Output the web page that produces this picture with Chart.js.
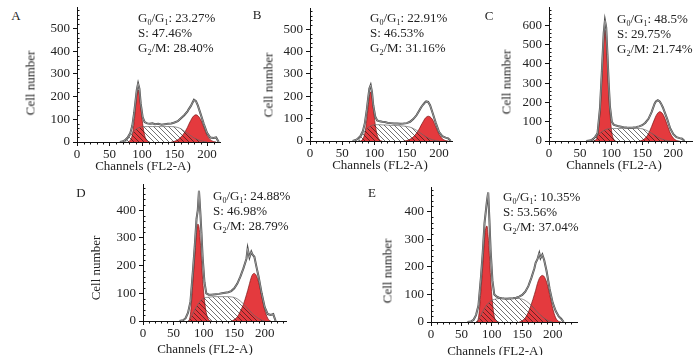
<!DOCTYPE html>
<html lang="en">
<head>
<meta charset="UTF-8">
<title>Cell cycle histograms</title>
<script src="https://cdn.jsdelivr.net/npm/chart.js@4.4.4/dist/chart.umd.js"></script>
<style>
  body { margin: 0; background: #fff; }
  #fig { position: relative; width: 700px; height: 355px; overflow: hidden;
         font-family: "Liberation Serif", "Times New Roman", serif; color: #222; }
  #fig canvas { position: absolute; }
  .txt { position: absolute; font-size: 13px; line-height: 15px; white-space: nowrap; }
  .lab { position: absolute; font-size: 13px; line-height: 15px; white-space: nowrap; transform: translate(-50%, -50%); }
  .rot { transform: translate(-50%, -50%) rotate(-90deg); }
  sub { font-size: 8px; line-height: 0; vertical-align: -3px; }
</style>
</head>
<body>
<div id="fig"></div>
<script>
// FL2-A channels shared by all five histograms
const channels = [0, 60, 66, 70, 74, 78, 82, 85, 88, 90, 92, 94, 96, 98, 101, 104, 108, 112, 116, 120,
  125, 130, 135, 140, 145, 150, 155, 160, 165, 170, 172, 175, 178, 180, 183, 186, 190, 195, 200, 205, 210, 214, 218];

// panel A
const rawA = [0, 0, 0, 2, 8, 20, 40, 70, 130, 180, 230, 258, 235, 170, 110, 88, 82, 80, 82, 78,
  80, 76, 78, 80, 82, 86, 92, 105, 118, 135, 145, 158, 175, 186, 180, 160, 125, 80, 40, 20, 18, 20, 0];
const g1A = [0, 0, 0, 0, 0, 0, 8, 30, 90, 150, 205, 230, 210, 160, 80, 30, 5, 0, 0, 0,
  0, 0, 0, 0, 0, 0, 0, 0, 0, 0, 0, 0, 0, 0, 0, 0, 0, 0, 0, 0, 0, 0, 0];
const sA = [0, 0, 0, 0, 0, 12, 28, 40, 50, 55, 58, 62, 64, 66, 68, 68, 68, 68, 68, 68,
  68, 68, 68, 68, 68, 67, 64, 58, 48, 38, 34, 28, 22, 18, 14, 10, 6, 2, 0, 0, 0, 0, 0];
const g2A = [0, 0, 0, 0, 0, 0, 0, 0, 0, 0, 0, 0, 0, 0, 0, 0, 0, 0, 0, 0,
  0, 0, 0, 0, 0, 3, 10, 22, 40, 65, 78, 95, 110, 116, 120, 116, 100, 65, 30, 10, 2, 0, 0];

// panel B
const rawB = [0, 0, 0, 3, 10, 22, 45, 80, 140, 190, 235, 250, 220, 160, 110, 92, 88, 86, 85, 82,
  80, 78, 78, 77, 78, 80, 86, 98, 115, 140, 150, 162, 172, 177, 175, 160, 125, 80, 40, 22, 15, 12, 0];
const g1B = [0, 0, 0, 0, 0, 0, 10, 35, 95, 150, 200, 220, 200, 150, 75, 28, 5, 0, 0, 0,
  0, 0, 0, 0, 0, 0, 0, 0, 0, 0, 0, 0, 0, 0, 0, 0, 0, 0, 0, 0, 0, 0, 0];
const sB = [0, 0, 0, 0, 0, 15, 32, 45, 55, 60, 64, 67, 70, 72, 73, 73, 73, 72, 72, 71,
  70, 70, 69, 68, 67, 65, 62, 56, 48, 38, 34, 28, 22, 18, 14, 10, 5, 2, 0, 0, 0, 0, 0];
const g2B = [0, 0, 0, 0, 0, 0, 0, 0, 0, 0, 0, 0, 0, 0, 0, 0, 0, 0, 0, 0,
  0, 0, 0, 0, 0, 2, 8, 18, 35, 58, 70, 85, 100, 106, 111, 108, 95, 62, 30, 10, 2, 0, 0];

// panel C
const rawC = [0, 0, 2, 8, 20, 40, 170, 360, 560, 625, 590, 450, 300, 180, 100, 85, 80, 76, 74, 72,
  70, 69, 70, 72, 76, 82, 95, 115, 150, 195, 205, 212, 205, 195, 175, 150, 115, 65, 35, 20, 15, 12, 0];
const g1C = [0, 0, 0, 0, 3, 28, 150, 340, 530, 575, 530, 410, 270, 150, 45, 10, 0, 0, 0, 0,
  0, 0, 0, 0, 0, 0, 0, 0, 0, 0, 0, 0, 0, 0, 0, 0, 0, 0, 0, 0, 0, 0, 0];
const sC = [0, 0, 0, 5, 15, 28, 40, 48, 54, 57, 60, 62, 63, 64, 65, 65, 65, 65, 65, 65,
  65, 65, 65, 65, 65, 63, 58, 50, 40, 30, 26, 20, 15, 12, 8, 5, 2, 0, 0, 0, 0, 0, 0];
const g2C = [0, 0, 0, 0, 0, 0, 0, 0, 0, 0, 0, 0, 0, 0, 0, 0, 0, 0, 0, 0,
  0, 0, 0, 0, 0, 4, 15, 38, 75, 115, 130, 145, 152, 150, 140, 120, 85, 42, 15, 3, 0, 0, 0];

// panel D
const rawD = [0, 0, 3, 10, 30, 70, 180, 270, 370, 400, 470, 400, 320, 230, 140, 100, 95, 95, 96, 97,
  98, 100, 102, 104, 108, 118, 135, 160, 190, 225, 262, 230, 250, 240, 232, 200, 160, 100, 50, 25, 22, 25, 0];
const g1D = [0, 0, 0, 0, 0, 25, 140, 230, 320, 350, 340, 290, 220, 150, 75, 30, 5, 0, 0, 0,
  0, 0, 0, 0, 0, 0, 0, 0, 0, 0, 0, 0, 0, 0, 0, 0, 0, 0, 0, 0, 0, 0, 0];
const sD = [0, 0, 0, 0, 0, 10, 28, 40, 52, 60, 66, 72, 76, 80, 83, 85, 86, 87, 88, 88,
  88, 88, 88, 88, 87, 85, 80, 72, 62, 50, 45, 38, 30, 26, 20, 15, 9, 3, 0, 0, 0, 0, 0];
const g2D = [0, 0, 0, 0, 0, 0, 0, 0, 0, 0, 0, 0, 0, 0, 0, 0, 0, 0, 0, 0,
  0, 0, 0, 0, 0, 5, 15, 35, 60, 95, 110, 135, 158, 168, 172, 165, 140, 90, 40, 10, 0, 0, 0];

// panel E
const rawE = [0, 0, 2, 8, 25, 60, 160, 250, 360, 400, 440, 470, 370, 260, 150, 100, 92, 88, 86, 85,
  84, 85, 86, 88, 92, 98, 110, 130, 160, 195, 215, 228, 250, 232, 245, 225, 185, 120, 70, 40, 20, 12, 0];
const g1E = [0, 0, 0, 0, 0, 15, 110, 200, 300, 340, 348, 310, 240, 160, 70, 20, 3, 0, 0, 0,
  0, 0, 0, 0, 0, 0, 0, 0, 0, 0, 0, 0, 0, 0, 0, 0, 0, 0, 0, 0, 0, 0, 0];
const sE = [0, 0, 0, 0, 0, 8, 25, 38, 50, 57, 63, 68, 72, 76, 80, 82, 84, 85, 86, 86,
  86, 86, 86, 86, 85, 83, 78, 70, 60, 48, 43, 36, 29, 25, 19, 14, 8, 3, 0, 0, 0, 0, 0];
const g2E = [0, 0, 0, 0, 0, 0, 0, 0, 0, 0, 0, 0, 0, 0, 0, 0, 0, 0, 0, 0,
  0, 0, 0, 0, 0, 5, 15, 35, 65, 100, 115, 140, 158, 165, 169, 165, 145, 100, 50, 15, 2, 0, 0];

// tick labels
const xTicks = [0, 50, 100, 150, 200];
const yTicks500 = [0, 100, 200, 300, 400, 500];
const yTicks600 = [0, 100, 200, 300, 400, 500, 600];
const yTicks400 = [0, 100, 200, 300, 400];

const panelNames = ['A', 'B', 'C', 'D', 'E'];
const g1Pct = ['23.27%', '22.91%', '48.5%', '24.88%', '10.35%'];
const sPct = ['47.46%', '46.53%', '29.75%', '46.98%', '53.56%'];
const g2Pct = ['28.40%', '31.16%', '21.74%', '28.79%', '37.04%'];
const xTitle = 'Channels (FL2-A)';
const yTitle = 'Cell number';

const series = [
  [rawA, g1A, sA, g2A], [rawB, g1B, sB, g2B], [rawC, g1C, sC, g2C],
  [rawD, g1D, sD, g2D], [rawE, g1E, sE, g2E]
];
const yTickSets = [yTicks500, yTicks500, yTicks600, yTicks400, yTicks400];

// where each plot sits on the page (px) and its axis ranges
const frames = [
  { left: 77,  right: 220, top: 7,   bottom: 142, xMax: 220, yMax: 595, letter: [16, 15],  stats: [138, 9.5], yLab: [29.5, 83], xLab: [143, 165] },
  { left: 310, right: 452, top: 8,   bottom: 141, xMax: 220, yMax: 595, letter: [257, 14], stats: [370, 10],  yLab: [268, 85],  xLab: [380, 164] },
  { left: 549, right: 692, top: 7,   bottom: 141, xMax: 230, yMax: 695, letter: [489, 15], stats: [617, 11],  yLab: [506, 82],  xLab: [614, 164] },
  { left: 143, right: 286, top: 184, bottom: 321, xMax: 235, yMax: 495, letter: [81, 192], stats: [213, 188], yLab: [95, 268],  xLab: [205, 348] },
  { left: 431, right: 577, top: 187, bottom: 322, xMax: 240, yMax: 490, letter: [372, 192], stats: [503, 189], yLab: [387, 271], xLab: [495, 350] }
];

const red = 'rgb(228,58,62)';
const tickFont = { family: '"Liberation Serif", "Times New Roman", serif', size: 13 };
const Y_W = 40, X_H = 22, PAD_T = 12, PAD_R = 6;

function hatch() {
  const c = document.createElement('canvas');
  c.width = c.height = 5;
  const g = c.getContext('2d');
  g.strokeStyle = 'rgba(20,20,20,0.6)';
  g.lineWidth = 1;
  g.beginPath();
  g.moveTo(-1, -1); g.lineTo(6, 6);
  g.moveTo(-1, 4); g.lineTo(1, 6);
  g.moveTo(4, -1); g.lineTo(6, 1);
  g.stroke();
  return g.createPattern(c, 'repeat');
}
const hatchFill = hatch();

// hide line segments lying flat on the baseline
const zeroSeg = {
  borderColor: c => (c.p0.parsed.y === 0 && c.p1.parsed.y === 0) ? 'rgba(0,0,0,0)' : undefined
};

function pts(vals) {
  return channels.map((c, i) => ({ x: c, y: vals[i] }));
}

// small in-between ticks: y inward every 20, x outward every 10
const minorTicks = {
  id: 'minorTicks',
  afterDraw(chart) {
    const { ctx, scales: { x, y } } = chart;
    ctx.save();
    ctx.strokeStyle = '#111';
    ctx.lineWidth = 1;
    ctx.beginPath();
    for (let v = 10; v < x.max; v += 10) {
      if (v % 50 === 0) continue;
      const px = Math.round(x.getPixelForValue(v)) + 0.5;
      ctx.moveTo(px, x.top); ctx.lineTo(px, x.top + 2.5);
    }
    for (let v = 20; v < y.max; v += 20) {
      if (v % 100 === 0) continue;
      const py = Math.round(y.getPixelForValue(v)) + 0.5;
      ctx.moveTo(y.right, py); ctx.lineTo(y.right + 2.5, py);
    }
    ctx.stroke();
    ctx.restore();
  }
};

const fig = document.getElementById('fig');
function addText(cls, html, x, y) {
  const d = document.createElement('div');
  d.className = cls;
  d.innerHTML = html;
  d.style.left = x + 'px';
  d.style.top = y + 'px';
  fig.appendChild(d);
}

frames.forEach((f, i) => {
  const [raw, g1, s, g2] = series[i];
  const L = f.left - Y_W, T = f.top - PAD_T;
  const cv = document.createElement('canvas');
  cv.width = f.right - L + PAD_R;
  cv.height = f.bottom - T + X_H;
  cv.style.left = L + 'px';
  cv.style.top = T + 'px';
  fig.appendChild(cv);

  const line = { pointRadius: 0, segment: zeroSeg };
  new Chart(cv, {
    type: 'line',
    data: {
      datasets: [
        { ...line, data: pts(raw), borderColor: '#c8c8c8', borderWidth: 0.6, fill: false, tension: 0 },
        { ...line, data: pts(raw), borderColor: '#4a4a4a', borderWidth: 2, fill: false, tension: 0 },
        { ...line, data: pts(s), borderColor: '#666', borderWidth: 0.7, backgroundColor: hatchFill, fill: 'origin', cubicInterpolationMode: 'monotone' },
        { ...line, data: pts(g2), borderColor: '#7a1414', borderWidth: 0.7, backgroundColor: red, fill: 'origin', cubicInterpolationMode: 'monotone' },
        { ...line, data: pts(g1), borderColor: '#7a1414', borderWidth: 0.7, backgroundColor: red, fill: 'origin', cubicInterpolationMode: 'monotone' }
      ]
    },
    options: {
      responsive: false,
      animation: false,
      devicePixelRatio: 1,
      layout: { padding: { left: 0, top: PAD_T, right: PAD_R, bottom: 0 } },
      plugins: { legend: { display: false }, tooltip: { enabled: false } },
      scales: {
        x: {
          type: 'linear', min: 0, max: f.xMax,
          afterFit: sc => { sc.height = X_H; },
          afterBuildTicks: sc => { sc.ticks = xTicks.map(v => ({ value: v })); },
          border: { color: '#111', width: 1 },
          grid: { drawOnChartArea: false, tickLength: 4, color: '#111' },
          ticks: { padding: 1, maxRotation: 0, autoSkip: false, color: '#222', font: tickFont }
        },
        y: {
          min: 0, max: f.yMax,
          afterFit: sc => { sc.width = Y_W; },
          afterBuildTicks: sc => { sc.ticks = yTickSets[i].map(v => ({ value: v })); },
          border: { color: '#111', width: 1 },
          grid: { drawOnChartArea: false, tickLength: 4, color: '#111' },
          ticks: { padding: 3, autoSkip: false, color: '#222', font: tickFont }
        }
      }
    },
    plugins: [minorTicks]
  });

  addText('lab', panelNames[i], f.letter[0], f.letter[1]);
  addText('txt', `G<sub>0</sub>/G<sub>1</sub>: ${g1Pct[i]}<br>S: ${sPct[i]}<br>G<sub>2</sub>/M: ${g2Pct[i]}`, f.stats[0], f.stats[1]);
  addText('lab rot', yTitle, f.yLab[0], f.yLab[1]);
  addText('lab', xTitle, f.xLab[0], f.xLab[1]);
});
</script>
</body>
</html>
